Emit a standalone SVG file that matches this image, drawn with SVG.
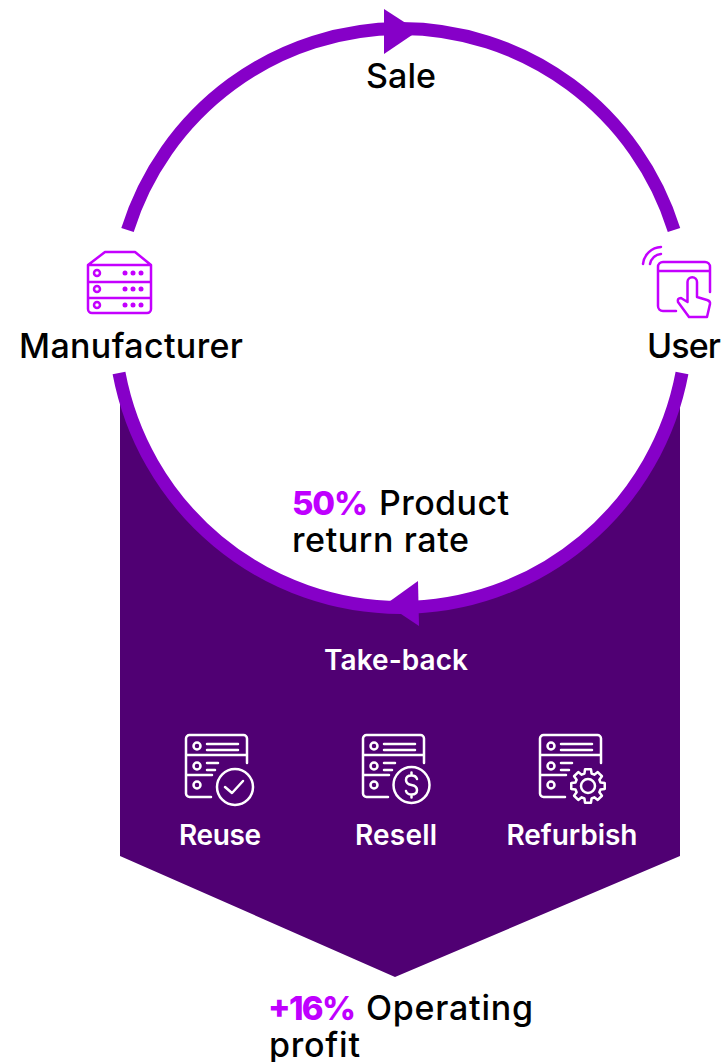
<svg xmlns="http://www.w3.org/2000/svg" width="724" height="1062" viewBox="0 0 724 1062">
<style>
text{font-family:Inter,"Liberation Sans",sans-serif;font-weight:500}
.l{font-size:34px;fill:#000}
.w{font-size:28px;fill:#fff;text-anchor:middle;font-weight:600}
.a{font-size:33px;fill:#BF00FF;font-weight:800}
.ic{fill:none;stroke:#C400FF;stroke-width:2.500;stroke-linecap:round;stroke-linejoin:round}
.iw{fill:none;stroke:#fff;stroke-width:2.500;stroke-linecap:round;stroke-linejoin:round}
.arc{fill:none;stroke:#8600C8;stroke-width:13}
.head{fill:#8600C8}
</style>
<defs>
<g id="rack">
<path d="M25 62H3.500a3.500 3.500 0 0 1-3.500-3.500V3.500a3.500 3.500 0 0 1 3.500-3.500H57.500a3.500 3.500 0 0 1 3.500 3.500V28M0 20H61M0 40H26"/>
<circle cx="11" cy="11" r="3.500"/><circle cx="11" cy="31" r="3.500"/><circle cx="11" cy="50" r="3.500"/>
<path d="M21 9H52M21 15H52M21 28H32M21 35H29"/>
</g>
</defs>
<path id="panel" fill="#500073" d="M120 376A286.500 288 0 0 0 680 376V856L395 977L120 856Z"/>
<g id="connectors">
<path class="arc" d="M127.500 230A286.500 288 0 0 1 674 230"/>
<path class="arc" d="M682 373A286.500 288 0 0 1 119 373"/>
<path class="head" d="M384 9V54L418 31Z"/>
<path class="head" d="M418 581L419 626L386 604Z"/>
</g>
<g id="sale"><text class="l" x="366" y="88" textLength="70">Sale</text></g>
<g id="manufacturer">
<g class="ic">
<path d="M105 252H135L151 265V309a4 4 0 0 1-4 4H92a4 4 0 0 1-4-4V265ZM88 265H151M88 282H151M88 298H151"/>
<circle cx="97" cy="273" r="3"/><circle cx="97" cy="289" r="3"/><circle cx="97" cy="305" r="3"/>
</g>
<g fill="#C400FF">
<circle cx="125" cy="273" r="2.500"/><circle cx="133" cy="273" r="2.500"/><circle cx="141" cy="273" r="2.500"/>
<circle cx="125" cy="289" r="2.500"/><circle cx="133" cy="289" r="2.500"/><circle cx="141" cy="289" r="2.500"/>
<circle cx="125" cy="305" r="2.500"/><circle cx="133" cy="305" r="2.500"/><circle cx="141" cy="305" r="2.500"/>
</g>
<text class="l" x="19" y="358" textLength="224">Manufacturer</text>
</g>
<g id="user">
<path class="ic" d="M676 311H663a5 5 0 0 1-5-5V267a5 5 0 0 1 5-5H705a5 5 0 0 1 5 5V292M658 271H710"/>
<path class="ic" d="M687.500 302V282a4.700 4.700 0 0 1 9.500 0V297L707 300Q710.500 301 710 304L707 317H689L678 302Q677 298 681 298Z"/>
<path class="ic" d="M643 264A19 19 0 0 1 661 247M650 264A12 12 0 0 1 661 254"/>
<text class="l" x="647" y="358" textLength="74">User</text>
</g>
<g id="return-rate">
<text class="a" x="292" y="515" textLength="76">50%</text>
<text class="l" x="379" y="515" textLength="130">Product</text>
<text class="l" x="292" y="552" textLength="177">return rate</text>
</g>
<g id="take-back"><text class="w" x="396" y="670" textLength="144">Take-back</text></g>
<g id="reuse">
<use href="#rack" class="iw" x="186" y="735"/>
<circle class="iw" cx="235" cy="787" r="18"/>
<path class="iw" d="M225 787L232 793L243 781"/>
<text class="w" x="220" y="845" textLength="82">Reuse</text>
</g>
<g id="resell">
<use href="#rack" class="iw" x="363" y="735"/>
<circle class="iw" cx="411.500" cy="785" r="18"/>
<path class="iw" d="M417 779Q416 775.500 411.500 775.500Q406 775.500 406 780Q406 784 411.500 785Q417 786 417 790Q417 794.500 411.500 794.500Q407 794.500 406 791M411.500 772.500V775.500M411.500 794.500V797.500"/>
<text class="w" x="396" y="845" textLength="82">Resell</text>
</g>
<g id="refurbish">
<use href="#rack" class="iw" x="540" y="735"/>
<g transform="translate(588 786)">
<path class="iw" d="M16.740 2.950L12.500 3.580L11.370 6.300L13.930 9.750L9.750 13.930L6.300 11.370L3.580 12.500L2.950 16.740L-2.950 16.740L-3.580 12.500L-6.300 11.370L-9.750 13.930L-13.930 9.750L-11.370 6.300L-12.500 3.580L-16.740 2.950L-16.740 -2.950L-12.500 -3.580L-11.370 -6.300L-13.930 -9.750L-9.750 -13.930L-6.300 -11.370L-3.580 -12.500L-2.950 -16.740L2.950 -16.740L3.580 -12.500L6.300 -11.370L9.750 -13.930L13.930 -9.750L11.370 -6.300L12.500 -3.580L16.740 -2.950Z"/>
<circle class="iw" r="7"/>
</g>
<text class="w" x="572" y="845" textLength="131">Refurbish</text>
</g>
<g id="profit">
<text class="a" x="268" y="1020" textLength="88">+16%</text>
<text class="l" x="366" y="1020" textLength="167">Operating</text>
<text class="l" x="269" y="1057" textLength="91">profit</text>
</g>
</svg>
